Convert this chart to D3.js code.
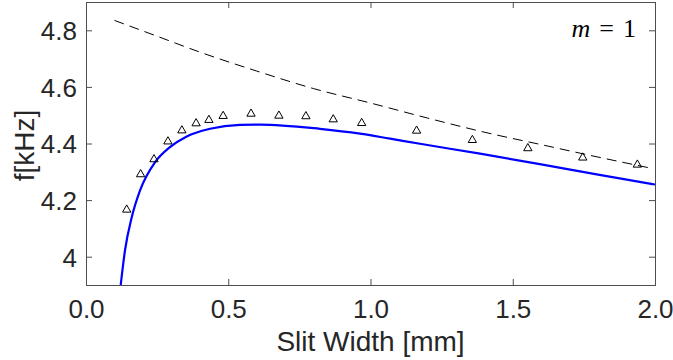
<!DOCTYPE html>
<html>
<head>
<meta charset="utf-8">
<script src="https://cdn.jsdelivr.net/npm/d3@7"></script>
<style>
  body { margin: 0; background: #fff; }
  text { font-family: "Liberation Sans", Arial, sans-serif; fill: #262626; }
</style>
</head>
<body>
<div class="chart"></div>
<script>
// measured points (triangles)
var measX = [0.143, 0.192, 0.239, 0.288, 0.337, 0.387, 0.432, 0.482, 0.580, 0.678, 0.773, 0.869, 0.969, 1.162, 1.358, 1.553, 1.746, 1.938];
var measY = [4.166, 4.291, 4.344, 4.407, 4.446, 4.471, 4.483, 4.497, 4.505, 4.498, 4.496, 4.485, 4.472, 4.445, 4.412, 4.383, 4.350, 4.325];

// model curve (blue)
var modelX = [0.122, 0.137, 0.161, 0.190, 0.243, 0.295, 0.354, 0.436, 0.541, 0.612, 0.822, 0.963, 1.069, 1.174, 1.385, 1.600, 1.800, 2.000];
var modelY = [3.900, 4.022, 4.140, 4.234, 4.334, 4.387, 4.425, 4.452, 4.466, 4.467, 4.452, 4.435, 4.417, 4.399, 4.364, 4.326, 4.290, 4.255];

// limit curve (dashed)
var limitX = [0.10, 0.25, 0.40, 0.60, 0.80, 1.00, 1.20, 1.40, 1.60, 1.80, 1.98];
var limitY = [4.835, 4.779, 4.723, 4.656, 4.594, 4.543, 4.490, 4.440, 4.396, 4.352, 4.314];

var xTicks = [0, 0.5, 1.0, 1.5, 2.0];
var yTicks = [4.0, 4.2, 4.4, 4.6, 4.8];

var width = 673, height = 360;
var margin = {top: 2, right: 18, bottom: 75, left: 86};
var axisColor = "#4d4d4d";

var x = d3.scaleLinear().domain([0, 2]).range([margin.left, width - margin.right]);
var y = d3.scaleLinear().domain([3.9, 4.9]).range([height - margin.bottom, margin.top]);

var svg = d3.select(".chart").append("svg")
    .attr("width", width).attr("height", height);

svg.append("clipPath").attr("id", "clip")
  .append("rect")
    .attr("x", margin.left).attr("y", margin.top)
    .attr("width", x.range()[1] - x.range()[0])
    .attr("height", y.range()[0] - y.range()[1]);

var plot = svg.append("g").attr("clip-path", "url(#clip)");

var line = d3.line()
    .x(function(d){ return x(d[0]); })
    .y(function(d){ return y(d[1]); })
    .curve(d3.curveMonotoneX);

plot.append("path")
    .datum(d3.zip(limitX, limitY))
    .attr("d", line)
    .attr("fill", "none")
    .attr("stroke", "#000")
    .attr("stroke-width", 1)
    .attr("stroke-dasharray", "10,6");

plot.append("path")
    .datum(d3.zip(modelX, modelY))
    .attr("d", line)
    .attr("fill", "none")
    .attr("stroke", "#0000ff")
    .attr("stroke-width", 2.2);

var tri = d3.symbol().type(d3.symbolTriangle).size(30);
plot.selectAll(".tri")
    .data(d3.zip(measX, measY))
    .enter().append("path")
    .attr("class", "tri")
    .attr("d", tri)
    .attr("transform", function(d){ return "translate(" + x(d[0]) + "," + y(d[1]) + ")"; })
    .attr("fill", "none")
    .attr("stroke", "#000")
    .attr("stroke-width", 1);

// axes (box with inward ticks, MATLAB style)
function styleAxis(g){
    g.selectAll(".domain").attr("stroke", axisColor);
    g.selectAll(".tick line").attr("stroke", axisColor);
}

var xAxis = d3.axisBottom(x).tickValues(xTicks).tickSize(-6).tickPadding(15)
    .tickFormat(d3.format(".1f"));
svg.append("g")
    .attr("transform", "translate(0," + y.range()[0] + ")")
    .call(xAxis)
    .call(styleAxis)
    .call(function(g){ g.selectAll("text").attr("font-size", 26).attr("fill", "#262626"); });

svg.append("g")
    .attr("transform", "translate(0," + y.range()[1] + ")")
    .call(d3.axisTop(x).tickValues(xTicks).tickSize(-6).tickFormat(""))
    .call(styleAxis);

var yAxis = d3.axisLeft(y).tickValues(yTicks).tickSize(-6).tickPadding(9)
    .tickFormat(function(d){ return d === 4 ? "4" : d3.format(".1f")(d); });
svg.append("g")
    .attr("transform", "translate(" + x.range()[0] + ",0)")
    .call(yAxis)
    .call(styleAxis)
    .call(function(g){ g.selectAll("text").attr("font-size", 26).attr("fill", "#262626").attr("dy", "0.36em"); });

svg.append("g")
    .attr("transform", "translate(" + x.range()[1] + ",0)")
    .call(d3.axisRight(y).tickValues(yTicks).tickSize(-6).tickFormat(""))
    .call(styleAxis);

// labels
svg.append("text")
    .attr("x", (x.range()[0] + x.range()[1]) / 2)
    .attr("y", 351)
    .attr("text-anchor", "middle")
    .attr("font-size", 28)
    .text("Slit Width [mm]");

svg.append("text")
    .attr("transform", "translate(34," + ((y.range()[0] + y.range()[1]) / 2 + 2) + ") rotate(-90)")
    .attr("text-anchor", "middle")
    .attr("font-size", 28)
    .text("f[kHz]");

var ann = svg.append("text")
    .attr("x", 636).attr("y", 37)
    .attr("text-anchor", "end")
    .attr("font-size", 26)
    .style("font-family", "'Liberation Serif', 'DejaVu Serif', serif")
    .style("fill", "#000");
ann.append("tspan").attr("font-style", "italic").text("m");
ann.append("tspan").attr("dx", 9).text("=");
ann.append("tspan").attr("dx", 9).text("1");
</script>
</body>
</html>
